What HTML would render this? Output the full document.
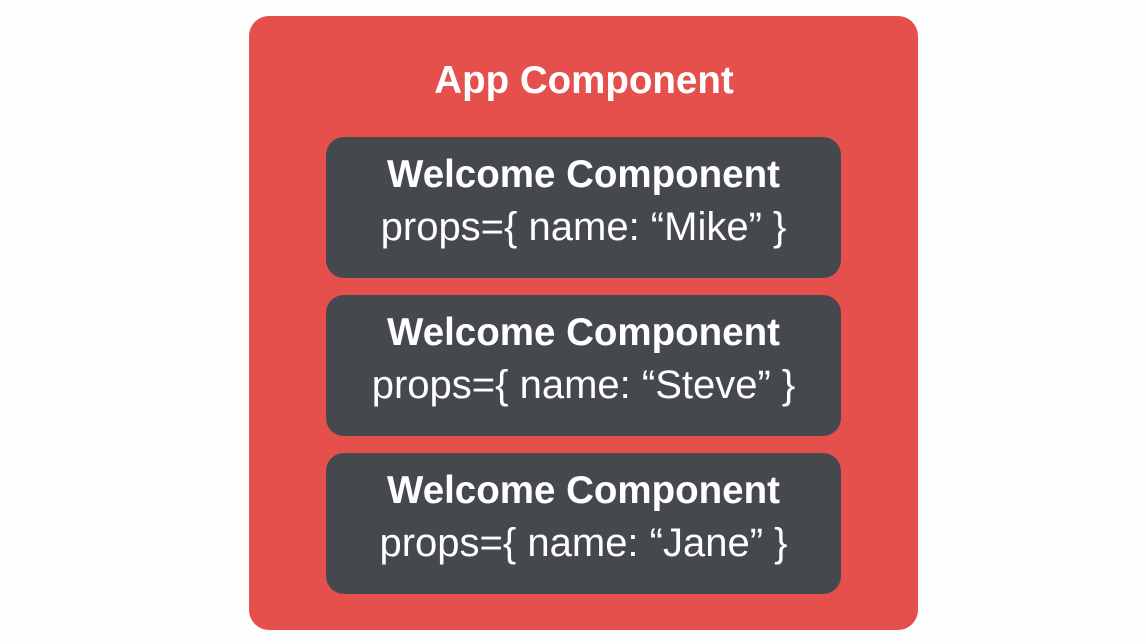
<!DOCTYPE html>
<html><head><style>
body{margin:0;width:1146px;height:644px;background:#fefefe;position:relative;overflow:hidden;font-family:"Liberation Sans",sans-serif;}
.outer{position:absolute;left:249px;top:16px;width:669px;height:614px;background:#e5504c;border-radius:20px;}
.t{position:absolute;left:0;width:100%;text-align:center;color:#fff;}
.box{position:absolute;left:326px;width:515px;height:141px;background:#45484d;border-radius:18px;}
.b{position:absolute;left:0;width:100%;text-align:center;color:#fff;font-weight:bold;font-size:38.5px;top:16px;line-height:44px;}
.p{position:absolute;left:0;width:100%;text-align:center;color:#fff;font-size:40px;top:68px;line-height:44px;}
</style></head><body>
<div class="outer"></div>
<div class="t" style="left:11px;top:58px;font-size:38.5px;font-weight:bold;line-height:46px;">App Component</div>
<div class="box" style="top:137px"><div class="b">Welcome Component</div><div class="p">props={ name: “Mike” }</div></div>
<div class="box" style="top:295px"><div class="b">Welcome Component</div><div class="p">props={ name: “Steve” }</div></div>
<div class="box" style="top:453px"><div class="b">Welcome Component</div><div class="p">props={ name: “Jane” }</div></div>
</body></html>
